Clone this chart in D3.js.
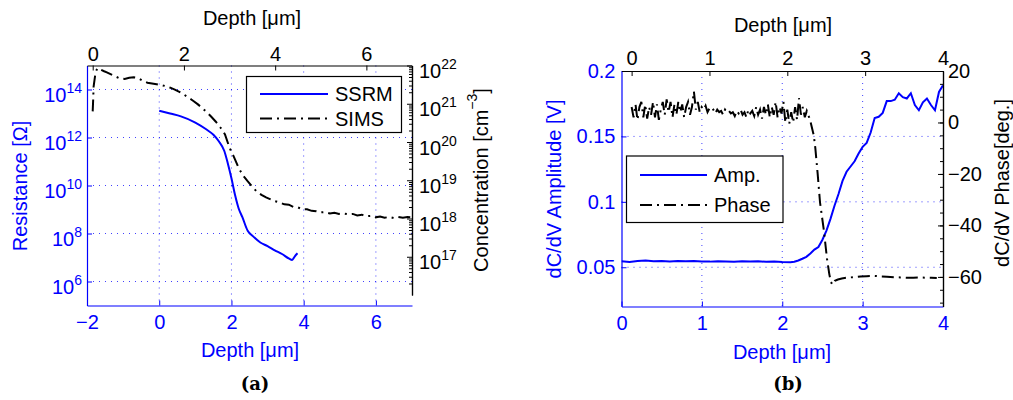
<!DOCTYPE html>
<html>
<head>
<meta charset="utf-8">
<script src="https://cdn.jsdelivr.net/npm/d3@7"></script>
<style>
  html, body { margin: 0; padding: 0; background: #fff; }
  svg { display: block; font-family: "Liberation Sans", Arial, Helvetica, sans-serif; }
</style>
</head>
<body>
<svg id="chart" width="1013" height="400"></svg>
<script>
// ---------- (a) SSRM resistance vs depth (bottom / left axes) ----------
const ssrmDepth = [0, 0.3, 0.6, 1.0, 1.3, 1.5, 1.65, 1.8, 1.9, 2.0, 2.1, 2.2, 2.3, 2.45, 2.6, 2.8, 3.0, 3.2, 3.4, 3.6, 3.68, 3.75, 3.83];
const ssrmResistance = [1.3e13, 1.0e13, 7.6e12, 4.2e12, 2.2e12, 1.3e12, 7.0e11, 2.8e11, 8.3e10, 2.0e10, 4.0e9, 1.1e9, 4.9e8, 1.3e8, 7.6e7, 4.2e7, 3.0e7, 2.0e7, 1.4e7, 8.9e6, 7.9e6, 1.1e7, 1.5e7];

// ---------- (a) SIMS concentration vs depth (top / right axes) ----------
const simsDepth = [0, 0.01, 0.02, 0.06, 0.1, 0.16, 0.25, 0.31, 0.45, 0.6, 0.7, 0.8, 0.9, 1.0, 1.1, 1.2, 1.3, 1.4, 1.5, 1.6, 1.7, 1.8, 1.9, 2.0, 2.1, 2.2, 2.3, 2.4, 2.5, 2.6, 2.7, 2.8, 2.9, 3.0, 3.1, 3.2, 3.3, 3.4, 3.5, 3.6, 3.7, 3.8, 3.9, 4.0, 4.1, 4.2, 4.3, 4.4, 4.5, 4.6, 4.7, 4.8, 4.9, 5.0, 5.1, 5.2, 5.3, 5.4, 5.5, 5.6, 5.7, 5.8, 5.9, 6.0, 6.1, 6.2, 6.3, 6.4, 6.5, 6.6, 6.7, 6.8, 6.9, 7.0];
const simsLogConc = [20.8, 21.1, 21.45, 21.8, 21.93, 21.9, 21.85, 21.82, 21.74, 21.66, 21.65, 21.68, 21.69, 21.67, 21.6, 21.55, 21.53, 21.51, 21.49, 21.46, 21.42, 21.37, 21.31, 21.24, 21.16, 21.08, 20.99, 20.89, 20.78, 20.66, 20.53, 20.38, 20.2, 19.85, 19.6, 19.32, 19.12, 18.97, 18.83, 18.7, 18.62, 18.55, 18.5, 18.45, 18.42, 18.37, 18.36, 18.3, 18.29, 18.24, 18.24, 18.2, 18.19, 18.16, 18.17, 18.13, 18.15, 18.12, 18.13, 18.11, 18.12, 18.08, 18.1, 18.06, 18.07, 18.03, 18.05, 18.02, 18.04, 18.01, 18.04, 18.02, 18.04, 18.03];

// ---------- (b) dC/dV amplitude (bottom / left axes) ----------
const ampDepth = [0, 0.1, 0.2, 0.3, 0.4, 0.5, 0.6, 0.7, 0.8, 0.9, 1.0, 1.1, 1.2, 1.3, 1.4, 1.5, 1.6, 1.7, 1.8, 1.9, 2.0, 2.1, 2.15, 2.2, 2.25, 2.3, 2.35, 2.4, 2.45, 2.5, 2.55, 2.6, 2.65, 2.7, 2.75, 2.8, 2.85, 2.9, 2.95, 3.0, 3.05, 3.1, 3.15, 3.2, 3.25, 3.3, 3.35, 3.4, 3.45, 3.5, 3.55, 3.6, 3.65, 3.7, 3.75, 3.8, 3.85, 3.9, 3.95, 4.0];
const ampValue = [0.0545, 0.0540, 0.0548, 0.0552, 0.0545, 0.0548, 0.0544, 0.0547, 0.0545, 0.0548, 0.0544, 0.0543, 0.0546, 0.0544, 0.0542, 0.0545, 0.0543, 0.0545, 0.0542, 0.0544, 0.0540, 0.0538, 0.0542, 0.0552, 0.0565, 0.0580, 0.0605, 0.0635, 0.0655, 0.0710, 0.0780, 0.0870, 0.0970, 0.1060, 0.1160, 0.1230, 0.1270, 0.1310, 0.1370, 0.1420, 0.1450, 0.1530, 0.1640, 0.1650, 0.1680, 0.1770, 0.1770, 0.1780, 0.1830, 0.1800, 0.1790, 0.1830, 0.1740, 0.1700, 0.1760, 0.1790, 0.1740, 0.1700, 0.1840, 0.1890];

// ---------- (b) dC/dV phase (top / right axes) ----------
const phaseDepth = [0, 0.025, 0.05, 0.075, 0.1, 0.125, 0.15, 0.175, 0.2, 0.225, 0.25, 0.275, 0.3, 0.325, 0.35, 0.375, 0.4, 0.425, 0.45, 0.475, 0.5, 0.525, 0.55, 0.575, 0.6, 0.625, 0.65, 0.675, 0.7, 0.725, 0.75, 0.775, 0.8, 0.825, 0.85, 0.875, 0.9, 0.925, 0.95, 0.975, 1.0, 1.025, 1.05, 1.075, 1.1, 1.125, 1.15, 1.175, 1.2, 1.225, 1.25, 1.275, 1.3, 1.325, 1.35, 1.375, 1.4, 1.425, 1.45, 1.475, 1.5, 1.525, 1.55, 1.575, 1.6, 1.625, 1.65, 1.675, 1.7, 1.725, 1.75, 1.775, 1.8, 1.825, 1.85, 1.875, 1.9, 1.925, 1.95, 1.975, 2.0, 2.025, 2.05, 2.075, 2.1, 2.125, 2.15, 2.175, 2.2, 2.225, 2.25, 2.28, 2.3, 2.34, 2.36, 2.39, 2.42, 2.47, 2.51, 2.54, 2.56, 2.58, 2.61, 2.65, 2.7, 2.77, 2.85, 2.94, 3.02, 3.11, 3.2, 3.28, 3.37, 3.45, 3.53, 3.62, 3.7, 3.78, 3.85, 3.92];
const phaseValue = [6, 2, 7, 1, 6, 8, 2, 7, 1.5, 6, 3, 8, 2, 7, 1, 5, 8, 3, 9, 4, 8, 2, 7, 3, 8, 4, 7, 2, 6, 8, 3, 6, 12, 5, 8, 4, 6, 5, 6.5, 4, 5.5, 4.5, 5, 3.5, 5, 4, 4.5, 3, 5, 4, 4.5, 3.5, 4, 2.5, 4.5, 3.5, 5, 3, 4, 2, 5, 3.5, 4.5, 2.5, 6, 3, 5, 1.5, 6, 3, 7, 2, 6, 3, 8, 2, 6, 3.5, 8, 0, 5, -0.5, 4, 0, 6, 1, 9.5, 3, 6, 2, 4.5, 2, 0, -5, -10, -20, -31, -42, -53, -59, -62, -63, -61.5, -61, -60.6, -60.3, -60.1, -59.8, -59.7, -59.6, -59.8, -59.9, -60.1, -60.2, -60.3, -60.3, -60.2, -60.3, -60.3, -60.4];

// ---------- tick values ----------
const depthTicksA = [-2, 0, 2, 4, 6];
const depthTopTicksA = [0, 2, 4, 6];
const resistanceTicks = [1e6, 1e8, 1e10, 1e12, 1e14];
const concTicks = [1e17, 1e18, 1e19, 1e20, 1e21, 1e22];
const depthTicksB = [0, 1, 2, 3, 4];
const ampTicks = [0.05, 0.1, 0.15, 0.2];
const phaseTicks = [-60, -40, -20, 0, 20];

const BLUE = "#0000ff";
const FS = 20;
const SUP = 14;
const numFmt = d => String(+d.toFixed(2)).replace("-", "\u2212");
const svg = d3.select("#chart");

// ---------- scales ----------
const xA = d3.scaleLinear().domain([-2, 7]).range([87, 412]);
const yA = d3.scaleLog().domain([1e5, 1e15]).range([305.5, 65.5]);
const xAtop = d3.scaleLinear().domain([-0.125, 7]).range([87, 412]);
const yAright = d3.scaleLog().domain([1e16, 1e22]).range([295, 65.5]);

const xB = d3.scaleLinear().domain([0, 4]).range([621.5, 943]);
const yB = d3.scaleLinear().domain([0.02, 0.2]).range([306.5, 71]);
const xBtop = d3.scaleLinear().domain([-0.13, 4]).range([621.5, 943]);
const yBright = d3.scaleLinear().domain([-71.5, 20]).range([306.5, 71]);

// ---------- clip regions ----------
const defs = svg.append("defs");
defs.append("clipPath").attr("id", "clipA").append("rect")
  .attr("x", 87).attr("y", 65.5).attr("width", 325).attr("height", 240);
defs.append("clipPath").attr("id", "clipB").append("rect")
  .attr("x", 621.5).attr("y", 71).attr("width", 321.5).attr("height", 235.5);

// ---------- grids ----------
function gridLines(g, xs, xScale, ys, yScale, x0, x1, y0, y1) {
  g.selectAll("line.v").data(xs).join("line").attr("class", "v")
    .attr("x1", d => xScale(d)).attr("x2", d => xScale(d))
    .attr("y1", y0).attr("y2", y1);
  g.selectAll("line.h").data(ys).join("line").attr("class", "h")
    .attr("x1", x0).attr("x2", x1)
    .attr("y1", d => yScale(d)).attr("y2", d => yScale(d));
  g.attr("stroke", BLUE).attr("stroke-opacity", 0.75)
   .attr("stroke-width", 1).attr("stroke-dasharray", "1,5");
}
gridLines(svg.append("g"), [0, 2, 4, 6], xA, resistanceTicks, yA, 87, 412, 65.5, 305.5);
gridLines(svg.append("g"), [1, 2, 3], xB, [0.05, 0.1, 0.15], yB, 621.5, 943, 71, 306.5);

// ---------- curves ----------
const dashDot = "12,5,2,5";

svg.append("path")
  .datum(d3.zip(ssrmDepth, ssrmResistance))
  .attr("clip-path", "url(#clipA)")
  .attr("fill", "none").attr("stroke", BLUE).attr("stroke-width", 2)
  .attr("d", d3.line().curve(d3.curveMonotoneX).x(d => xA(d[0])).y(d => yA(d[1])));

svg.append("path")
  .datum(d3.zip(simsDepth, simsLogConc))
  .attr("clip-path", "url(#clipA)")
  .attr("fill", "none").attr("stroke", "#000").attr("stroke-width", 2)
  .attr("stroke-dasharray", dashDot)
  .attr("d", d3.line().x(d => xAtop(d[0])).y(d => yAright(Math.pow(10, d[1]))));

svg.append("path")
  .datum(d3.zip(ampDepth, ampValue))
  .attr("clip-path", "url(#clipB)")
  .attr("fill", "none").attr("stroke", BLUE).attr("stroke-width", 2)
  .attr("d", d3.line().x(d => xB(d[0])).y(d => yB(d[1])));

svg.append("path")
  .datum(d3.zip(phaseDepth, phaseValue))
  .attr("clip-path", "url(#clipB)")
  .attr("fill", "none").attr("stroke", "#000").attr("stroke-width", 2)
  .attr("stroke-dasharray", dashDot)
  .attr("d", d3.line().x(d => xBtop(d[0])).y(d => yBright(d[1])));

// ---------- axes ----------
function styleAxis(g, color) {
  g.selectAll("path.domain").attr("stroke", color).attr("stroke-width", 1.2);
  g.selectAll(".tick line").attr("stroke", color);
  g.selectAll(".tick text").attr("fill", color).attr("font-size", FS)
    .attr("font-family", "Liberation Sans, Arial, sans-serif");
}
function powerLabels(g) {
  g.selectAll(".tick text").each(function(d) {
    const t = d3.select(this).text(null);
    t.append("tspan").text("10");
    t.append("tspan").attr("dy", -9).attr("font-size", SUP)
      .text(Math.round(Math.log10(d)));
  });
}

// (a) bottom
svg.append("g").attr("transform", "translate(0,305.5)")
  .call(d3.axisBottom(xA).tickValues(depthTicksA).tickFormat(numFmt).tickSizeInner(-5).tickSizeOuter(0).tickPadding(9))
  .call(g => styleAxis(g, BLUE));
// (a) left
svg.append("g").attr("transform", "translate(87,0)")
  .call(d3.axisLeft(yA).tickValues(resistanceTicks).tickSizeInner(-5).tickSizeOuter(0).tickPadding(5))
  .call(g => styleAxis(g, BLUE))
  .call(powerLabels)
  .call(g => g.selectAll(".tick text").attr("dy", "0.6em"));
// (a) top
svg.append("g").attr("transform", "translate(0,65.5)")
  .call(d3.axisTop(xAtop).tickValues(depthTopTicksA).tickFormat(numFmt).tickSizeInner(-5).tickSizeOuter(0).tickPadding(5))
  .call(g => styleAxis(g, "#000"));
// (a) right, log with minor ticks
const concMinor = [];
for (let k = 16; k < 22; k++) for (let m = 2; m <= 9; m++) concMinor.push(m * Math.pow(10, k));
svg.append("g").attr("transform", "translate(412,0)")
  .call(d3.axisRight(yAright).tickValues(concMinor).tickSizeInner(-3).tickSizeOuter(0).tickFormat(() => ""))
  .call(g => styleAxis(g, "#000"));
svg.append("g").attr("transform", "translate(412,0)")
  .call(d3.axisRight(yAright).tickValues(concTicks).tickSizeInner(-5).tickSizeOuter(0).tickPadding(7))
  .call(g => styleAxis(g, "#000"))
  .call(powerLabels)
  .call(g => g.selectAll(".tick text").attr("dy", "0.6em"));

// (b) bottom
svg.append("g").attr("transform", "translate(0,306.5)")
  .call(d3.axisBottom(xB).tickValues(depthTicksB).tickFormat(numFmt).tickSizeInner(-5).tickSizeOuter(0).tickPadding(9))
  .call(g => styleAxis(g, BLUE));
// (b) left
svg.append("g").attr("transform", "translate(621.5,0)")
  .call(d3.axisLeft(yB).tickValues(ampTicks).tickFormat(numFmt).tickSizeInner(-5).tickSizeOuter(0).tickPadding(6))
  .call(g => styleAxis(g, BLUE));
// (b) top
svg.append("g").attr("transform", "translate(0,71)")
  .call(d3.axisTop(xBtop).tickValues(depthTicksB).tickFormat(numFmt).tickSizeInner(-5).tickSizeOuter(0).tickPadding(6))
  .call(g => styleAxis(g, "#000"));
// (b) right
svg.append("g").attr("transform", "translate(943,0)")
  .call(d3.axisRight(yBright).tickValues(d3.range(-70, 21, 5)).tickSizeInner(-3).tickSizeOuter(0).tickFormat(() => ""))
  .call(g => styleAxis(g, "#000"));
svg.append("g").attr("transform", "translate(943,0)")
  .call(d3.axisRight(yBright).tickValues(phaseTicks).tickFormat(numFmt).tickSizeInner(-5).tickSizeOuter(0).tickPadding(5))
  .call(g => styleAxis(g, "#000"));

// ---------- axis titles ----------
function label(x, y, txt, color, rotate) {
  return svg.append("text")
    .attr("transform", `translate(${x},${y})` + (rotate ? " rotate(-90)" : ""))
    .attr("text-anchor", "middle").attr("dominant-baseline", "central")
    .attr("fill", color).attr("font-size", FS).text(txt);
}
label(252, 18, "Depth [\u03bcm]", "#000");
label(250, 350, "Depth [\u03bcm]", BLUE);
label(20, 186, "Resistance [\u03a9]", BLUE, true);
{
  const t = svg.append("text")
    .attr("transform", "translate(481,180) rotate(-90)")
    .attr("text-anchor", "middle").attr("dominant-baseline", "central")
    .attr("fill", "#000").attr("font-size", FS);
  t.append("tspan").text("Concentration [cm");
  t.append("tspan").attr("dy", -9).attr("font-size", SUP).text("\u22123");
  t.append("tspan").attr("dy", 9).text("]");
}
label(783, 25, "Depth [\u03bcm]", "#000");
label(782, 352, "Depth [\u03bcm]", BLUE);
label(554, 189, "dC/dV Amplitude [V]", BLUE, true);
label(1002, 183, "dC/dV Phase[deg.]", "#000", true);

// ---------- panel captions ----------
svg.append("text").attr("x", 255).attr("y", 383).attr("text-anchor", "middle")
  .attr("dominant-baseline", "central").attr("font-family", "DejaVu Serif, serif")
  .attr("font-weight", "bold").attr("font-size", 18).text("(a)");
svg.append("text").attr("x", 788).attr("y", 383).attr("text-anchor", "middle")
  .attr("dominant-baseline", "central").attr("font-family", "DejaVu Serif, serif")
  .attr("font-weight", "bold").attr("font-size", 18).text("(b)");

// ---------- legends ----------
function legend(x, y, w, h, items) {
  const g = svg.append("g");
  g.append("rect").attr("x", x).attr("y", y).attr("width", w).attr("height", h)
    .attr("fill", "#fff").attr("stroke", "#000").attr("stroke-width", 1.2);
  items.forEach(it => {
    g.append("line").attr("x1", it.x1).attr("x2", it.x2).attr("y1", it.y).attr("y2", it.y)
      .attr("stroke", it.color).attr("stroke-width", 2)
      .attr("stroke-dasharray", it.dash || null);
    g.append("text").attr("x", it.tx).attr("y", it.y).attr("dominant-baseline", "central")
      .attr("font-size", FS).attr("fill", "#000").text(it.name);
  });
}
legend(246.5, 76.5, 155, 56, [
  { name: "SSRM", color: BLUE, y: 94, x1: 260, x2: 328, tx: 335 },
  { name: "SIMS", color: "#000", y: 118.5, x1: 260, x2: 328, tx: 335, dash: dashDot }
]);
legend(626.5, 156, 156.5, 66.5, [
  { name: "Amp.", color: BLUE, y: 175, x1: 640, x2: 707, tx: 714 },
  { name: "Phase", color: "#000", y: 205, x1: 640, x2: 707, tx: 714, dash: dashDot }
]);
</script>
</body>
</html>
